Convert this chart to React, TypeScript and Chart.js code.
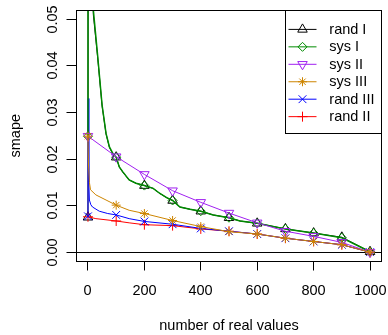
import React, { useEffect, useRef } from 'react';
import { Chart, registerables } from 'chart.js';
import { drawPoint } from 'chart.js/helpers';

Chart.register(...registerables);

// ---------- data ----------
const seriesNames = ['rand I', 'sys I', 'sys II', 'sys III', 'rand III', 'rand II'];

const randIX = [0, 1, 10, 19, 34, 50, 64, 76, 88, 100, 111, 123, 146, 170, 200, 231, 255, 279, 300, 326, 362, 400, 444, 500, 539, 600, 700, 800, 900, 1000];
const randIY = [0.0075, 0.15, 0.07, 0.051, 0.042, 0.0314, 0.0254, 0.0225, 0.0211, 0.0204, 0.0183, 0.0172, 0.0155, 0.0148, 0.0143, 0.0137, 0.0126, 0.0117, 0.0111, 0.0097, 0.0092, 0.0088, 0.008, 0.0074, 0.0067, 0.0062, 0.005, 0.0041, 0.0032, 0.0001];

const sysIX = [0, 1, 10, 19, 34, 50, 64, 76, 88, 100, 111, 123, 146, 170, 200, 231, 255, 279, 300, 326, 362, 400, 444, 500, 539, 600, 700, 800, 900, 1000];
const sysIY = [0.0249, 0.2, 0.075, 0.052, 0.0424, 0.0316, 0.0255, 0.0226, 0.0212, 0.0204, 0.0183, 0.0173, 0.0155, 0.0148, 0.0143, 0.0137, 0.0126, 0.0117, 0.0111, 0.0097, 0.0092, 0.0088, 0.008, 0.0074, 0.0067, 0.0062, 0.005, 0.0041, 0.0031, 0.0001];

const sysIIX = [0, 100, 200, 300, 400, 500, 600, 700, 800, 900, 1000];
const sysIIY = [0.0249, 0.0205, 0.0167, 0.0132, 0.0107, 0.0084, 0.0063, 0.0045, 0.0034, 0.0021, 0.0];

const sysIIIX = [0, 2, 5, 9, 28, 64, 100, 146, 200, 300, 400, 500, 600, 700, 800, 900, 1000];
const sysIIIY = [0.0249, 0.0185, 0.015, 0.0134, 0.0123, 0.0112, 0.0101, 0.009, 0.0083, 0.0068, 0.0055, 0.0044, 0.0039, 0.003, 0.0023, 0.0016, 0.0];

const randIIIX = [0, 1, 3, 5, 10, 16, 40, 70, 100, 146, 200, 300, 400, 500, 600, 700, 800, 900, 1000];
const randIIIY = [0.0077, 0.033, 0.015, 0.0112, 0.0102, 0.0097, 0.0088, 0.0083, 0.008, 0.0072, 0.0066, 0.006, 0.0051, 0.0045, 0.0039, 0.003, 0.0023, 0.0016, 0.0];

const randIIX = [0, 28, 100, 146, 200, 300, 400, 500, 600, 700, 800, 900, 1000];
const randIIY = [0.0076, 0.0072, 0.0067, 0.0063, 0.0059, 0.0057, 0.005, 0.0045, 0.0039, 0.003, 0.0023, 0.0016, 0.0];

const xTickValues = [0, 200, 400, 600, 800, 1000];
const xTickLabels = ['0', '200', '400', '600', '800', '1000'];
const yTickValues = [0, 0.01, 0.02, 0.03, 0.04, 0.05];
const yTickLabels = ['0.00', '0.01', '0.02', '0.03', '0.04', '0.05'];

const xTitle = 'number of real values';
const yTitle = 'smape';

// ---------- styles ----------
const FONT = "14.5px 'Liberation Sans', Arial, Helvetica, sans-serif";
const seriesX = [randIX, sysIX, sysIIX, sysIIIX, randIIIX, randIIX];
const seriesY = [randIY, sysIY, sysIIY, sysIIIY, randIIIY, randIIY];
const colors = ['#000000', '#008b00', '#a020f0', '#cd8500', '#0000ff', '#ff0000'];
const widths = [1, 1.5, 1, 1, 1, 1];
const pStyles = ['triangle', 'rectRot', 'triangle', 'star', 'crossRot', 'cross'];
const pRot = [0, 0, 180, 0, 0, 0];
const pRad = [5.5, 4.5, 5.5, 4.5, 5.5, 5];
const drawOrder = [6, 3, 2, 1, 4, 5];

const snap = (v: number) => Math.round(v - 0.5) + 0.5;

const rPlotPlugin = {
  id: 'rPlot',
  beforeDatasetsDraw(chart: any) {
    const { ctx, chartArea: a, scales } = chart;
    const y0 = snap(scales.y.getPixelForValue(0));
    ctx.save();
    ctx.strokeStyle = '#000';
    ctx.lineWidth = 1;
    ctx.beginPath();
    ctx.moveTo(a.left, y0);
    ctx.lineTo(a.right, y0);
    ctx.stroke();
    ctx.restore();
  },
  afterDraw(chart: any) {
    const { ctx, chartArea: a, scales } = chart;
    const L = snap(a.left), R = snap(a.right), T = snap(a.top), B = snap(a.bottom);
    ctx.save();
    ctx.strokeStyle = '#000';
    ctx.lineWidth = 1;
    ctx.strokeRect(L, T, R - L, B - T);

    // x axis ticks and labels
    ctx.fillStyle = '#000';
    ctx.font = FONT;
    ctx.textAlign = 'center';
    ctx.textBaseline = 'alphabetic';
    xTickValues.forEach((v, i) => {
      const px = snap(scales.x.getPixelForValue(v));
      ctx.beginPath();
      ctx.moveTo(px, B);
      ctx.lineTo(px, B + 9);
      ctx.stroke();
      ctx.fillText(xTickLabels[i], px, 295);
    });
    ctx.fillText(xTitle, (a.left + a.right) / 2, 329.5);

    // y axis ticks and labels
    yTickValues.forEach((v, i) => {
      const py = snap(scales.y.getPixelForValue(v));
      ctx.beginPath();
      ctx.moveTo(L, py);
      ctx.lineTo(L - 10, py);
      ctx.stroke();
      ctx.save();
      ctx.translate(57, py);
      ctx.rotate(-Math.PI / 2);
      ctx.fillText(yTickLabels[i], 0, 0);
      ctx.restore();
    });
    ctx.save();
    ctx.translate(19.5, (a.top + a.bottom) / 2);
    ctx.rotate(-Math.PI / 2);
    ctx.fillText(yTitle, 0, 0);
    ctx.restore();

    // legend
    const lx0 = 285.5, ly0 = T, lx1 = R, ly1 = 133.5;
    ctx.fillStyle = '#fff';
    ctx.fillRect(lx0, ly0, lx1 - lx0, ly1 - ly0);
    ctx.strokeRect(lx0, ly0, lx1 - lx0, ly1 - ly0);
    ctx.textAlign = 'left';
    ctx.textBaseline = 'middle';
    seriesNames.forEach((name, i) => {
      const yy = 29.4 + i * 17.45;
      ctx.strokeStyle = colors[i];
      ctx.lineWidth = 1;
      ctx.beginPath();
      ctx.moveTo(288.5, yy);
      ctx.lineTo(316.5, yy);
      ctx.stroke();
      ctx.fillStyle = 'rgba(0,0,0,0)';
      drawPoint(ctx, { pointStyle: pStyles[i], rotation: pRot[i], radius: pRad[i], borderWidth: 1 } as any, 302.5, yy);
      ctx.fillStyle = '#000';
      ctx.fillText(name, 329.3, yy + 0.5);
    });
    ctx.restore();
  },
};

export default function App() {
  const ref = useRef<HTMLCanvasElement | null>(null);
  useEffect(() => {
    if (!ref.current) return;
    const datasets = seriesNames.map((name, i) => ({
      label: name,
      data: seriesX[i].map((x, j) => ({ x, y: seriesY[i][j] })),
      borderColor: colors[i],
      borderWidth: widths[i],
      tension: 0,
      fill: false,
      order: drawOrder[i],
      pointStyle: pStyles[i],
      pointRotation: pRot[i],
      pointRadius: (c: any) => (c.raw && c.raw.x % 100 === 0 ? pRad[i] : 0),
      pointHoverRadius: 0,
      pointBorderColor: colors[i],
      pointBackgroundColor: 'rgba(0,0,0,0)',
      pointBorderWidth: 1,
    }));
    const chart = new Chart(ref.current, {
      type: 'line',
      data: { datasets },
      options: {
        animation: false,
        responsive: false,
        devicePixelRatio: 1,
        events: [],
        parsing: false,
        layout: { padding: { left: 76.7, right: 6.7, top: 10, bottom: 73.5 } },
        scales: {
          x: { type: 'linear', min: -40, max: 1040, display: false },
          y: { type: 'linear', min: -0.002, max: 0.052, display: false },
        },
        plugins: { legend: { display: false }, tooltip: { enabled: false } },
      },
      plugins: [rPlotPlugin],
    } as any);
    return () => chart.destroy();
  }, []);
  return (
    <div style={{ position: 'fixed', left: 0, top: 0, width: 388, height: 335, background: '#fff' }}>
      <canvas ref={ref} width={388} height={335} style={{ display: 'block', width: 388, height: 335 }} />
    </div>
  );
}
